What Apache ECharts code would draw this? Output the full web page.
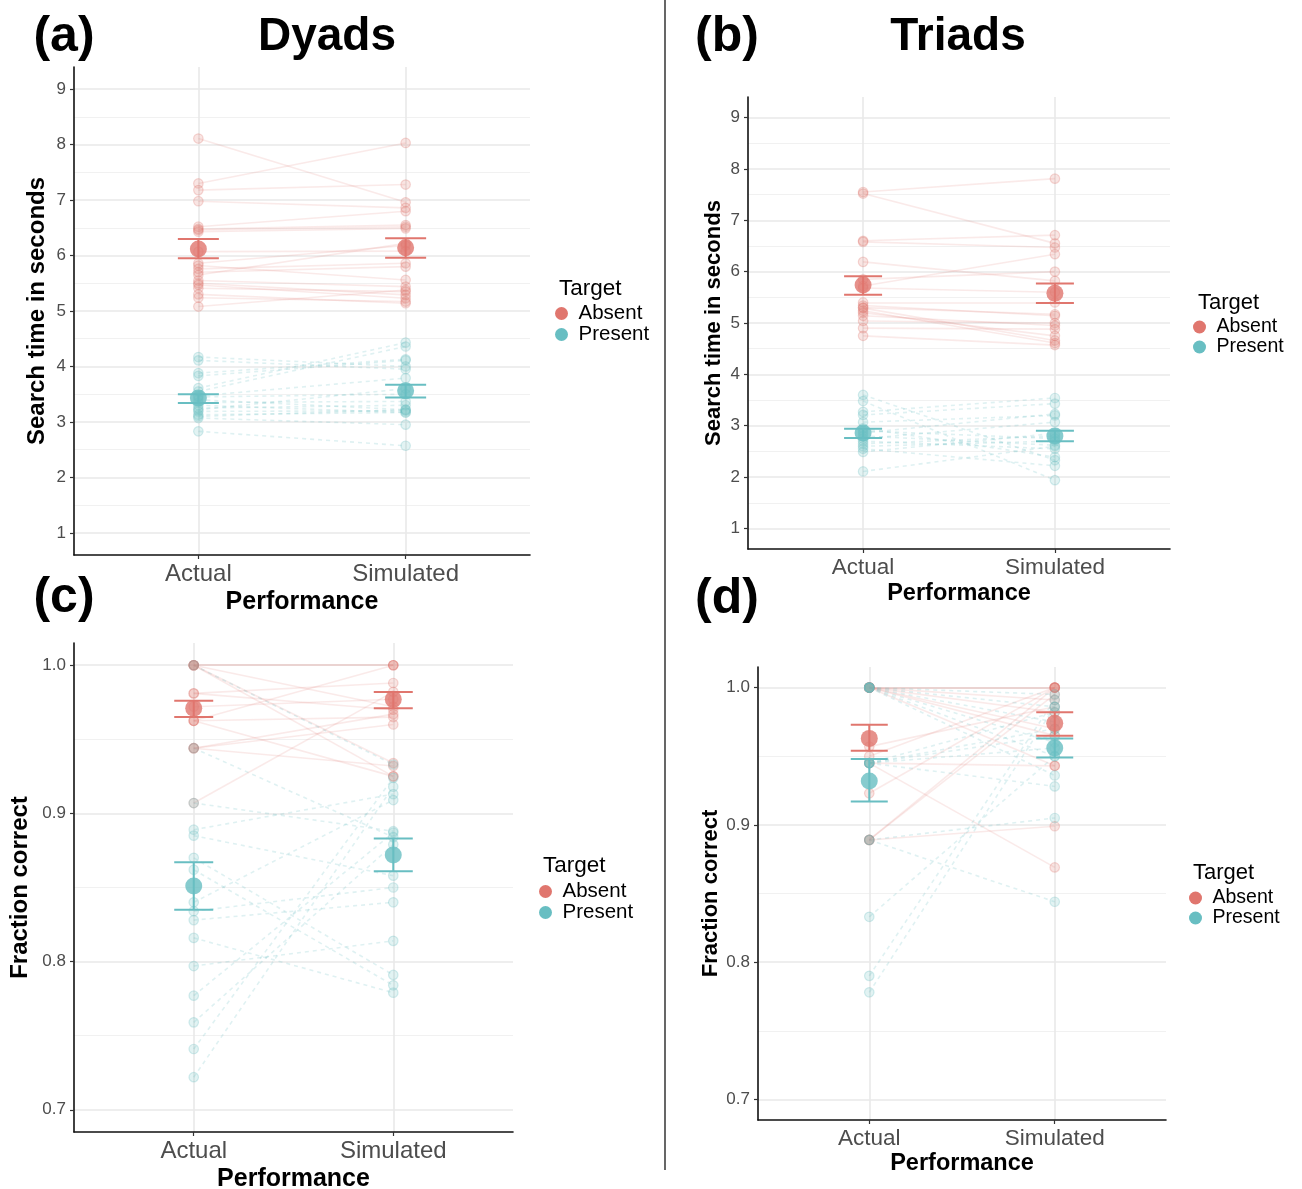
<!DOCTYPE html>
<html><head><meta charset="utf-8">
<script src="https://cdn.jsdelivr.net/npm/echarts@6/dist/echarts.min.js"></script>
<style>html,body{margin:0;padding:0;background:#fff}#c{width:1302px;height:1189px}</style>
</head><body><div id="c"></div><script>
const categories = ['Actual', 'Simulated'];
const groups = ['Absent', 'Present'];
const timeTicks = [1, 2, 3, 4, 5, 6, 7, 8, 9];
const timeMinorTicks = [1.5, 2.5, 3.5, 4.5, 5.5, 6.5, 7.5, 8.5];
const accTicks = [0.7, 0.8, 0.9, 1.0];
const accMinorTicks = [0.75, 0.85, 0.95];

// (a) Dyads, search time
const dyadTimeAbsentActual    = [8.11, 7.30, 7.18, 6.98, 6.52, 6.46, 6.43, 6.48, 6.07, 5.86, 5.82, 5.76, 5.70, 5.65, 5.50, 5.47, 5.41, 5.24, 5.08, 5.30, 5.55];
const dyadTimeAbsentSimulated = [6.96, 8.03, 7.28, 6.86, 6.80, 6.52, 6.49, 6.55, 6.08, 6.18, 5.56, 5.86, 5.80, 6.22, 5.29, 5.23, 5.35, 5.17, 5.38, 5.14, 5.44];
const dyadTimePresentActual    = [4.17, 4.11, 3.88, 3.83, 3.61, 3.55, 3.47, 3.40, 3.35, 3.30, 3.25, 3.19, 3.13, 3.07, 2.83, 3.22, 3.10, 3.45];
const dyadTimePresentSimulated = [4.00, 3.95, 4.13, 4.11, 4.43, 4.36, 3.79, 3.22, 3.37, 3.17, 3.30, 3.20, 3.17, 2.95, 2.57, 3.60, 3.22, 3.50];
const dyadTimeAbsentMean = [6.12, 6.14], dyadTimeAbsentLow = [5.95, 5.96], dyadTimeAbsentHigh = [6.30, 6.31];
const dyadTimePresentMean = [3.43, 3.56], dyadTimePresentLow = [3.34, 3.44], dyadTimePresentHigh = [3.50, 3.67];

// (b) Triads, search time
const triadTimeAbsentActual    = [7.55, 7.52, 6.60, 6.58, 6.19, 5.72, 5.85, 5.68, 5.40, 5.34, 5.29, 5.24, 5.14, 5.04, 4.90, 4.75, 5.30, 5.20];
const triadTimeAbsentSimulated = [7.81, 6.55, 6.71, 6.47, 5.82, 6.34, 6.00, 5.60, 5.40, 5.14, 4.66, 4.61, 4.95, 5.00, 4.88, 4.57, 5.17, 4.75];
const triadTimePresentActual    = [3.60, 3.48, 3.27, 3.21, 3.07, 2.95, 2.86, 2.80, 2.75, 2.65, 2.55, 2.49, 2.11, 2.90, 2.70, 2.60];
const triadTimePresentSimulated = [2.33, 1.94, 3.54, 3.43, 3.20, 2.39, 3.23, 2.62, 3.07, 2.80, 2.22, 2.85, 2.60, 2.75, 2.55, 2.70];
const triadTimeAbsentMean = [5.74, 5.58], triadTimeAbsentLow = [5.55, 5.39], triadTimeAbsentHigh = [5.91, 5.77];
const triadTimePresentMean = [2.86, 2.80], triadTimePresentLow = [2.76, 2.70], triadTimePresentHigh = [2.94, 2.90];

// (c) Dyads, fraction correct
const dyadAccAbsentActual    = [1.0, 1.0, 1.0, 1.0, 0.981, 0.981, 0.9625, 0.9625, 0.944, 0.944, 0.944, 0.907, 0.9625, 0.972, 1.0];
const dyadAccAbsentSimulated = [1.0, 1.0, 0.934, 0.925, 0.988, 0.970, 1.0, 0.925, 0.967, 0.960, 0.932, 0.982, 0.965, 0.977, 0.972];
const dyadAccPresentActual    = [1.0, 0.944, 0.907, 0.889, 0.885, 0.870, 0.862, 0.840, 0.834, 0.828, 0.816, 0.797, 0.777, 0.759, 0.741, 0.722];
const dyadAccPresentSimulated = [0.933, 0.884, 0.888, 0.913, 0.858, 0.791, 0.784, 0.909, 0.850, 0.840, 0.779, 0.814, 0.887, 0.879, 0.924, 0.918];
const dyadAccAbsentMean = [0.971, 0.977], dyadAccAbsentLow = [0.965, 0.971], dyadAccAbsentHigh = [0.976, 0.982];
const dyadAccPresentMean = [0.851, 0.872], dyadAccPresentLow = [0.835, 0.861], dyadAccPresentHigh = [0.867, 0.883];

// (d) Triads, fraction correct
const triadAccAbsentActual    = [1.0, 1.0, 1.0, 1.0, 1.0, 1.0, 0.950, 0.945, 0.945, 0.923, 0.889, 0.889, 0.889, 0.957, 1.0];
const triadAccAbsentSimulated = [1.0, 1.0, 0.982, 0.970, 0.965, 0.943, 1.0, 0.943, 0.869, 1.0, 1.0, 0.995, 0.899, 0.986, 0.991];
const triadAccPresentActual    = [1.0, 1.0, 1.0, 1.0, 1.0, 0.945, 0.945, 0.945, 0.945, 0.889, 0.889, 0.833, 0.790, 0.778, 1.0, 0.945];
const triadAccPresentSimulated = [0.995, 0.986, 0.960, 0.950, 0.936, 0.982, 0.965, 0.956, 0.928, 0.905, 0.844, 0.950, 0.991, 0.986, 0.975, 0.970];
const triadAccAbsentMean = [0.963, 0.974], triadAccAbsentLow = [0.954, 0.965], triadAccAbsentHigh = [0.973, 0.982];
const triadAccPresentMean = [0.932, 0.956], triadAccPresentLow = [0.917, 0.949], triadAccPresentHigh = [0.948, 0.963];

const FONT = '"Liberation Sans", Arial, Helvetica, sans-serif';
const COLORS = { Absent: [224, 118, 110], Present: [104, 190, 194] };
const rgba = (c, a) => `rgba(${c[0]},${c[1]},${c[2]},${a})`;

const panels = [
  { grid: { left: 74, top: 67, width: 456, height: 488 }, yMin: 0.6, yMax: 9.4, ticks: timeTicks, minor: timeMinorTicks, dec: 0,
    yName: 'Search time in seconds', yNameGap: 25, yNameSize: 24, xLabelSize: 24, xNameSize: 25, xNameGap: 35, xLabelMargin: 7, cap: 20.5,
    absent: [dyadTimeAbsentActual, dyadTimeAbsentSimulated, dyadTimeAbsentMean, dyadTimeAbsentLow, dyadTimeAbsentHigh],
    present: [dyadTimePresentActual, dyadTimePresentSimulated, dyadTimePresentMean, dyadTimePresentLow, dyadTimePresentHigh],
    leg: { left: 555, top: 303, rowH: 20, font: 20.5, titleX: 559, titleY: 289, titleFont: 22.5 },
    tag: '(a)', tagX: 64, tagY: 37, title: 'Dyads', titleX: 327, titleY: 37 },
  { grid: { left: 748, top: 97, width: 422, height: 452 }, yMin: 0.6, yMax: 9.4, ticks: timeTicks, minor: timeMinorTicks, dec: 0,
    yName: 'Search time in seconds', yNameGap: 23, yNameSize: 22, xLabelSize: 22.5, xNameSize: 23.5, xNameGap: 33, xLabelMargin: 7, cap: 19,
    absent: [triadTimeAbsentActual, triadTimeAbsentSimulated, triadTimeAbsentMean, triadTimeAbsentLow, triadTimeAbsentHigh],
    present: [triadTimePresentActual, triadTimePresentSimulated, triadTimePresentMean, triadTimePresentLow, triadTimePresentHigh],
    leg: { left: 1193, top: 317, rowH: 18, font: 19.5, titleX: 1198, titleY: 303, titleFont: 22 },
    tag: '(b)', tagX: 727, tagY: 37, title: 'Triads', titleX: 958, titleY: 37 },
  { grid: { left: 74, top: 643, width: 439, height: 489 }, yMin: 0.685, yMax: 1.015, ticks: accTicks, minor: accMinorTicks, dec: 1,
    yName: 'Fraction correct', yNameGap: 42, yNameSize: 24, xLabelSize: 24, xNameSize: 25, xNameGap: 35, xLabelMargin: 7, cap: 19.5,
    absent: [dyadAccAbsentActual, dyadAccAbsentSimulated, dyadAccAbsentMean, dyadAccAbsentLow, dyadAccAbsentHigh],
    present: [dyadAccPresentActual, dyadAccPresentSimulated, dyadAccPresentMean, dyadAccPresentLow, dyadAccPresentHigh],
    leg: { left: 539, top: 881, rowH: 19, font: 20.5, titleX: 543, titleY: 866, titleFont: 22.5 },
    tag: '(c)', tagX: 64, tagY: 598 },
  { grid: { left: 758, top: 667, width: 408, height: 453 }, yMin: 0.685, yMax: 1.015, ticks: accTicks, minor: accMinorTicks, dec: 1,
    yName: 'Fraction correct', yNameGap: 36, yNameSize: 22, xLabelSize: 22.5, xNameSize: 23.5, xNameGap: 32, xLabelMargin: 7, cap: 18.5,
    absent: [triadAccAbsentActual, triadAccAbsentSimulated, triadAccAbsentMean, triadAccAbsentLow, triadAccAbsentHigh],
    present: [triadAccPresentActual, triadAccPresentSimulated, triadAccPresentMean, triadAccPresentLow, triadAccPresentHigh],
    leg: { left: 1189, top: 888, rowH: 17, font: 19.5, titleX: 1193, titleY: 873, titleFont: 22 },
    tag: '(d)', tagX: 727, tagY: 599 }
];

const grid = [], xAxis = [], yAxis = [], series = [], legend = [], graphic = [];

function errorBar(half) {
  return function (params, api) {
    const x = api.value(0), lo = api.value(1), hi = api.value(2);
    const a = api.coord([x, lo]), b = api.coord([x, hi]);
    const st = { stroke: api.visual('color'), lineWidth: 2 };
    return { type: 'group', children: [
      { type: 'line', shape: { x1: a[0], y1: a[1], x2: b[0], y2: b[1] }, style: st },
      { type: 'line', shape: { x1: a[0] - half, y1: a[1], x2: a[0] + half, y2: a[1] }, style: st },
      { type: 'line', shape: { x1: b[0] - half, y1: b[1], x2: b[0] + half, y2: b[1] }, style: st }
    ] };
  };
}

panels.forEach((p, i) => {
  grid.push(Object.assign({ containLabel: false, outerBoundsMode: 'none' }, p.grid));
  xAxis.push({
    type: 'value', gridIndex: i, min: 0.4, max: 2.6,
    axisLine: { show: true, onZero: false, lineStyle: { color: '#111', width: 1.6 } },
    axisTick: { show: true, customValues: [1, 2], length: 4, lineStyle: { color: '#333', width: 1.2 } },
    axisLabel: { customValues: [1, 2], formatter: v => categories[Math.round(v) - 1], fontSize: p.xLabelSize, color: '#4d4d4d', margin: p.xLabelMargin, fontFamily: FONT },
    splitLine: { show: true, lineStyle: { color: '#e9e9e9', width: 1.6 } },
    name: 'Performance', nameLocation: 'middle', nameGap: p.xNameGap,
    nameTextStyle: { fontSize: p.xNameSize, fontWeight: 'bold', color: '#000', fontFamily: FONT }
  });
  yAxis.push({
    type: 'value', gridIndex: i, min: p.yMin, max: p.yMax,
    axisLine: { show: true, onZero: false, lineStyle: { color: '#111', width: 1.6 } },
    axisTick: { show: true, customValues: p.ticks, length: 4, lineStyle: { color: '#333', width: 1.2 } },
    axisLabel: { customValues: p.ticks, formatter: v => v.toFixed(p.dec), fontSize: 17, color: '#4d4d4d', margin: 8, fontFamily: FONT },
    splitLine: { show: true, lineStyle: { color: '#e9e9e9', width: 1.6 } },
    name: p.yName, nameLocation: 'middle', nameGap: p.yNameGap,
    nameTextStyle: { fontSize: p.yNameSize, fontWeight: 'bold', color: '#000', fontFamily: FONT }
  });
  const minorIdx = yAxis.length;
  yAxis.push({
    type: 'value', gridIndex: i, min: p.yMin, max: p.yMax, position: 'left',
    axisLine: { show: false }, axisTick: { show: false, customValues: p.minor }, axisLabel: { show: false },
    splitLine: { show: true, lineStyle: { color: '#f1f1f1', width: 1.2 } }
  });
  const yIdx = minorIdx - 1;

  const groupData = { Absent: p.absent, Present: p.present };
  groups.forEach(g => {
    const [act, sim] = groupData[g];
    series.push({
      type: 'lines', name: g, coordinateSystem: 'cartesian2d', xAxisIndex: i, yAxisIndex: yIdx, silent: true,
      data: act.map((v, k) => ({ coords: [[1, v], [2, sim[k]]] })),
      lineStyle: g === 'Absent'
        ? { color: rgba(COLORS[g], 0.3), width: 1.6, type: 'solid' }
        : { color: rgba(COLORS[g], 0.42), width: 1.6, type: [4, 4] },
      z: 2
    });
  });
  groups.forEach(g => {
    const [act, sim] = groupData[g];
    series.push({
      type: 'scatter', name: g, xAxisIndex: i, yAxisIndex: yIdx, symbol: 'circle', symbolSize: 9.5, silent: true,
      data: act.map(v => [1, v]).concat(sim.map(v => [2, v])),
      itemStyle: { color: rgba(COLORS[g], 0.24), borderColor: rgba(COLORS[g], 0.34), borderWidth: 1.2 },
      z: 3
    });
  });
  groups.forEach(g => {
    const [, , mean, low, high] = groupData[g];
    series.push({
      type: 'custom', name: g, xAxisIndex: i, yAxisIndex: yIdx, silent: true,
      renderItem: errorBar(p.cap), encode: { x: 0, y: [1, 2] },
      itemStyle: { color: rgba(COLORS[g], 1) },
      data: categories.map((c, k) => [k + 1, low[k], high[k]]),
      z: 4
    });
  });
  groups.forEach(g => {
    const [, , mean] = groupData[g];
    series.push({
      type: 'scatter', name: g, xAxisIndex: i, yAxisIndex: yIdx, symbol: 'circle', symbolSize: 17, silent: true,
      data: categories.map((c, k) => [k + 1, mean[k]]),
      itemStyle: { color: rgba(COLORS[g], 1) },
      z: 5
    });
  });

  legend.push({
    orient: 'vertical', left: p.leg.left, top: p.leg.top, padding: 0, itemGap: 0,
    itemWidth: 24, itemHeight: 13, icon: 'circle', selectedMode: false,
    textStyle: { fontSize: p.leg.font, lineHeight: p.leg.rowH, color: '#000', fontFamily: FONT, padding: 0 },
    data: groups.map(g => ({ name: g, icon: 'circle', itemStyle: { color: rgba(COLORS[g], 1), opacity: 1, borderWidth: 0 } }))
  });
  graphic.push({ type: 'text', x: p.leg.titleX, y: p.leg.titleY, silent: true,
    style: { text: 'Target', fontSize: p.leg.titleFont, fontFamily: FONT, fill: '#000', align: 'left', verticalAlign: 'middle' } });
  graphic.push({ type: 'text', x: p.tagX, y: p.tagY, silent: true,
    style: { text: p.tag, fontSize: 50, fontWeight: 'bold', fontFamily: FONT, fill: '#000', align: 'center', verticalAlign: 'middle' } });
  if (p.title) {
    graphic.push({ type: 'text', x: p.titleX, y: p.titleY, silent: true,
      style: { text: p.title, fontSize: 46, fontWeight: 'bold', fontFamily: FONT, fill: '#000', align: 'center', verticalAlign: 'middle' } });
  }
});

graphic.push({ type: 'line', silent: true, shape: { x1: 665, y1: 0, x2: 665, y2: 1170 }, style: { stroke: '#000', lineWidth: 1.2 } });

const chart = echarts.init(document.getElementById('c'), null, { renderer: 'canvas' });
chart.setOption({
  backgroundColor: '#fff',
  animation: false,
  textStyle: { fontFamily: FONT },
  grid, xAxis, yAxis, series, legend, graphic
});
</script></body></html>
